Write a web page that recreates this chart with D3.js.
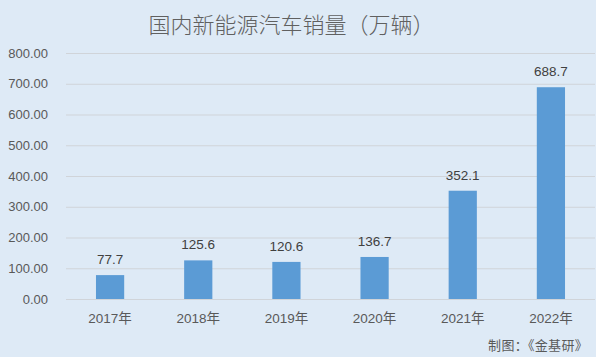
<!DOCTYPE html>
<html><head><meta charset="utf-8">
<script src="https://cdn.jsdelivr.net/npm/d3@7"></script>
<style>body{margin:0;background:#DEEAF6;}svg{display:block;}</style>
</head><body>
<svg id="c" width="596" height="357"></svg>
<script>
const categories = ["2017年","2018年","2019年","2020年","2021年","2022年"];
const sales = [77.7,125.6,120.6,136.7,352.1,688.7];
const yTicks = [0,100,200,300,400,500,600,700,800];
const title = "国内新能源汽车销量（万辆）";
const source = "制图：《金基研》";

const svg = d3.select("#c");
const W = 596, H = 357;
const m = {left: 66, right: 1, top: 53, bottom: 58};
const font = "'Liberation Sans', 'Noto Sans CJK SC', sans-serif";
const txt = "#595959";

svg.append("rect").attr("width", W).attr("height", H).attr("fill", "#DEEAF6");

const x = d3.scaleBand().domain(categories).range([m.left, W - m.right]).paddingInner(0.68).paddingOuter(0.34);
const y = d3.scaleLinear().domain([0, 800]).range([H - m.bottom, m.top]);

const yAxis = svg.append("g").attr("transform", `translate(${m.left},0)`)
  .call(d3.axisLeft(y).tickValues(yTicks).tickFormat(d3.format(".2f")).tickSize(-(W - m.right - m.left)).tickPadding(18));
yAxis.select(".domain").remove();
yAxis.selectAll(".tick line").attr("stroke", "#D0D4D9").attr("stroke-width", 1);
yAxis.selectAll(".tick text").attr("fill", txt).attr("font-family", font).attr("font-size", 13);

svg.selectAll(".bar").data(sales).join("rect")
  .attr("x", (d, i) => x(categories[i]))
  .attr("y", d => y(d))
  .attr("width", x.bandwidth())
  .attr("height", d => y(0) - y(d))
  .attr("fill", "#5B9BD5");

svg.selectAll(".val").data(sales).join("text")
  .attr("x", (d, i) => x(categories[i]) + x.bandwidth() / 2)
  .attr("y", d => y(d) - 11)
  .attr("text-anchor", "middle")
  .attr("fill", "#404040").attr("font-family", font).attr("font-size", 13.5)
  .text(d => d.toFixed(1));

const xAxis = svg.append("g").attr("transform", `translate(0,${y(0)})`)
  .call(d3.axisBottom(x).tickSize(0).tickPadding(14));
xAxis.select(".domain").remove();
xAxis.selectAll(".tick text").attr("fill", txt).attr("font-family", font).attr("font-size", 13.5);

svg.append("text").attr("x", 291.5).attr("y", 33).attr("text-anchor", "middle")
  .attr("fill", "#606060").attr("font-family", "'Noto Sans CJK SC', sans-serif").attr("font-size", 22)
  .attr("font-weight", 300)
  .text(title);

svg.append("text").attr("x", 588).attr("y", 350).attr("text-anchor", "end")
  .attr("fill", txt).attr("font-family", "'Noto Sans CJK SC', sans-serif").attr("font-size", 13)
  .attr("letter-spacing", 0.3)
  .text(source);
</script>
</body></html>
